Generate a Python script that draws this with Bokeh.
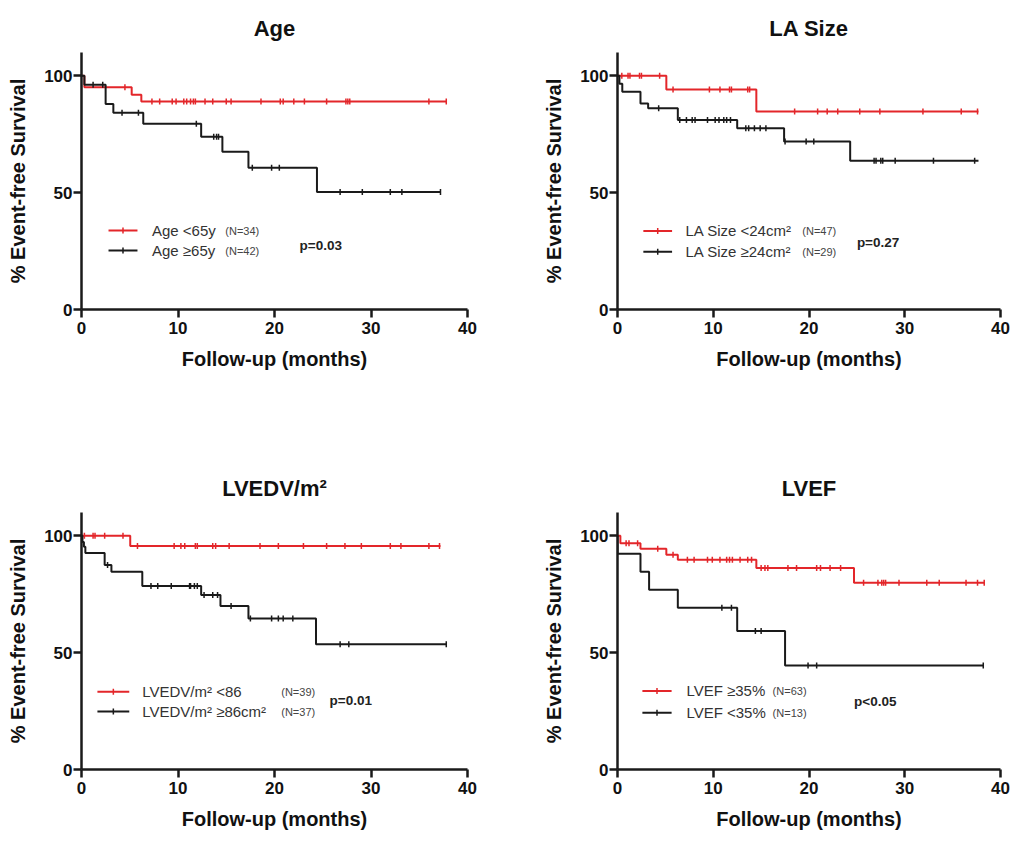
import numpy as np
from bokeh.plotting import figure
from bokeh.layouts import column, row
from bokeh.models import Label, Range1d, FixedTicker
from bokeh.embed import file_html
from bokeh.resources import INLINE

# ---------------- data ----------------
x_ticks = [0, 10, 20, 30, 40]
y_ticks = [0, 50, 100]

# Age
age_young_t = [0, 0.3, 5.2, 6.2, 37.8]
age_young_s = [100, 95.1, 91.9, 89.0, 89.0]
age_young_c = [4.5, 7.3, 8.1, 9.4, 9.8, 10.6, 10.9, 11.3, 11.6, 11.8, 12.8, 13.6, 15.0, 15.5,
               18.6, 20.6, 20.9, 22.0, 23.1, 25.4, 27.4, 27.6, 27.8, 36.0, 37.8]
age_old_t = [0, 0.3, 2.5, 3.3, 6.4, 12.4, 14.6, 17.3, 24.4, 37.2]
age_old_s = [100, 96.2, 88.0, 84.2, 79.5, 73.9, 67.5, 60.7, 50.3, 50.3]
age_old_c = [1.2, 2.2, 4.2, 5.9, 11.9, 13.7, 14.0, 14.2, 17.7, 19.7, 20.5, 26.8, 29.1, 32.0, 33.2, 37.2]

# LA size
la_small_t = [0, 5.1, 14.5, 37.7]
la_small_s = [100, 94.2, 84.7, 84.7]
la_small_c = [0.45, 1.1, 1.3, 2.3, 2.5, 4.4, 5.8, 9.6, 10.7, 11.7, 11.9, 13.6, 13.8, 18.5, 20.9,
              21.9, 23.0, 25.3, 27.4, 31.9, 35.9, 37.6]
la_large_t = [0, 0.2, 0.5, 2.4, 3.2, 6.3, 12.5, 17.4, 24.3, 37.7]
la_large_s = [100, 96.6, 93.2, 88.2, 86.1, 81.1, 77.6, 71.9, 63.7, 63.7]
la_large_c = [4.3, 6.5, 7.2, 7.8, 8.1, 9.4, 10.2, 10.6, 11.1, 11.4, 11.8, 13.4, 13.7, 14.3, 14.9,
              15.5, 17.5, 19.7, 20.5, 26.8, 27.0, 27.5, 27.7, 29.0, 33.0, 37.3]

# LVEDV/m2
lv_small_t = [0, 5.05, 37.2]
lv_small_s = [100, 95.7, 95.7]
lv_small_c = [0.3, 1.2, 1.4, 2.4, 4.3, 5.8, 9.6, 10.3, 10.7, 11.8, 12.0, 13.6, 13.9, 15.3, 18.5,
              20.4, 23.0, 25.4, 27.3, 29.0, 32.0, 33.1, 36.0, 37.1]
lv_large_t = [0, 0.1, 0.25, 0.4, 2.4, 3.1, 6.3, 12.4, 14.4, 17.3, 24.3, 37.8]
lv_large_s = [100, 97.4, 95.3, 92.7, 87.5, 84.6, 78.5, 74.7, 70.0, 64.6, 53.6, 53.6]
lv_large_c = [2.7, 7.2, 7.9, 9.3, 11.2, 11.3, 11.7, 12.0, 12.7, 13.6, 14.1, 15.5, 17.5, 19.7,
              20.4, 20.9, 21.9, 26.8, 27.7, 37.8]

# LVEF
ef_high_t = [0, 0.3, 2.4, 5.1, 6.3, 14.5, 24.7, 38.3]
ef_high_s = [100, 96.8, 94.5, 91.9, 89.8, 86.2, 79.9, 79.9]
ef_high_c = [0.9, 1.2, 2.1, 4.2, 5.8, 7.3, 8.0, 9.4, 9.9, 10.7, 11.4, 11.7, 12.0, 12.8, 13.6, 14.0,
             15.0, 15.4, 15.7, 17.8, 18.7, 20.8, 21.2, 22.2, 23.3, 25.7, 27.2, 27.6, 27.8, 28.0,
             29.4, 32.3, 33.6, 36.4, 37.6, 38.3]
ef_low_t = [0, 0, 2.4, 3.3, 6.3, 12.5, 17.5, 38.2]
ef_low_s = [100, 92.3, 84.6, 76.9, 69.2, 59.3, 44.5, 44.5]
ef_low_c = [10.9, 11.9, 14.4, 15.0, 19.9, 20.8, 38.2]

titles = ["Age", "LA Size", "LVEDV/m²", "LVEF"]
legend_red = ["Age <65y", "LA Size <24cm²", "LVEDV/m²  <86", "LVEF ≥35%"]
legend_black = ["Age ≥65y", "LA Size ≥24cm²", "LVEDV/m²  ≥86cm²", "LVEF <35%"]
n_red = ["(N=34)", "(N=47)", "(N=39)", "(N=63)"]
n_black = ["(N=42)", "(N=29)", "(N=37)", "(N=13)"]
p_values = ["p=0.03", "p=0.27", "p=0.01", "p<0.05"]

RED = "#e3262a"
BLACK = "#1a1a1a"
FONT = "Liberation Sans"


def step_value(t, s, x):
    t = np.asarray(t, float)
    s = np.asarray(s, float)
    idx = np.searchsorted(t, np.asarray(x, float), side="right") - 1
    return s[np.clip(idx, 0, len(s) - 1)]


def make_panel(title, red, black, leg, width, height, bl, br, bt, bb):
    p = figure(width=width, height=height, output_backend="svg", toolbar_location=None,
               min_border_left=bl, min_border_right=br, min_border_top=bt, min_border_bottom=bb,
               x_range=Range1d(0, 40), y_range=Range1d(0, 110))
    p.outline_line_color = None
    p.grid.visible = False
    p.background_fill_color = "white"
    p.border_fill_color = "white"

    p.title.text = title
    p.title.align = "center"
    p.title.text_font = FONT
    p.title.text_font_size = "22px"
    p.title.text_font_style = "bold"
    p.title.text_color = "#111111"
    p.title.standoff = 24

    p.xaxis.ticker = FixedTicker(ticks=x_ticks)
    p.yaxis.ticker = FixedTicker(ticks=y_ticks)
    p.xaxis.axis_label = "Follow-up (months)"
    p.yaxis.axis_label = "% Event-free Survival"
    for ax in (p.xaxis, p.yaxis):
        ax.axis_line_width = 2.5
        ax.axis_line_color = BLACK
        ax.major_tick_line_width = 2.5
        ax.major_tick_line_color = BLACK
        ax.major_tick_out = 8
        ax.major_tick_in = 0
        ax.minor_tick_line_color = None
        ax.major_label_text_font = FONT
        ax.major_label_text_font_size = "17px"
        ax.major_label_text_font_style = "bold"
        ax.major_label_text_color = "#111111"
        ax.axis_label_text_font = FONT
        ax.axis_label_text_font_style = "bold"
        ax.axis_label_text_color = "#111111"
        ax.axis_label_text_font_size = "20px"
    p.xaxis.axis_label_standoff = 11
    p.yaxis.axis_label_standoff = 12
    p.yaxis.major_label_standoff = 1
    p.xaxis.major_label_standoff = 4

    for (t, s, c), col in ((red, RED), (black, BLACK)):
        p.step(t, s, mode="after", line_color=col, line_width=2)
        p.scatter(c, step_value(t, s, c), marker="dash", angle=np.pi / 2, size=6,
                  line_color=col, line_width=1.5)

    (lx0, lx1, y_red, y_black, tx, nx, px, py, txt_r, txt_b, nr, nb, pv) = leg
    for yy, col, txt, nn in ((y_red, RED, txt_r, nr), (y_black, BLACK, txt_b, nb)):
        p.line([lx0, lx1], [yy, yy], line_color=col, line_width=2)
        p.scatter([(lx0 + lx1) / 2], [yy], marker="dash", angle=np.pi / 2, size=6,
                  line_color=col, line_width=1.5)
        p.add_layout(Label(x=tx, y=yy, text=txt, text_font=FONT, text_font_size="15px",
                           text_baseline="middle", text_color="#333333"))
        p.add_layout(Label(x=nx, y=yy, text=nn, text_font=FONT, text_font_size="11px",
                           text_baseline="middle", text_color="#444444"))
    p.add_layout(Label(x=px, y=py, text=pv, text_font=FONT, text_font_size="13.5px",
                       text_font_style="bold", text_baseline="middle", text_color="#222222"))
    return p


p1 = make_panel(titles[0], (age_young_t, age_young_s, age_young_c), (age_old_t, age_old_s, age_old_c),
                (2.8, 5.8, 33.8, 25.2, 7.3, 14.9, 22.6, 27.4,
                 legend_red[0], legend_black[0], n_red[0], n_black[0], p_values[0]),
                540, 460, 81, 73, 52, 151)
p2 = make_panel(titles[1], (la_small_t, la_small_s, la_small_c), (la_large_t, la_large_s, la_large_c),
                (2.7, 5.7, 33.6, 24.7, 7.1, 19.3, 25.0, 28.5,
                 legend_red[1], legend_black[1], n_red[1], n_black[1], p_values[1]),
                471, 460, 74, 11, 52, 151)
p3 = make_panel(titles[2], (lv_small_t, lv_small_s, lv_small_c), (lv_large_t, lv_large_s, lv_large_c),
                (1.65, 4.95, 33.3, 24.8, 6.3, 20.7, 25.7, 29.5,
                 legend_red[2], legend_black[2], n_red[2], n_black[2], p_values[2]),
                540, 374, 81, 73, 52, 65)
p4 = make_panel(titles[3], (ef_high_t, ef_high_s, ef_high_c), (ef_low_t, ef_low_s, ef_low_c),
                (2.6, 5.65, 33.6, 24.3, 7.2, 16.2, 24.7, 29.0,
                 legend_red[3], legend_black[3], n_red[3], n_black[3], p_values[3]),
                471, 374, 74, 11, 52, 65)

layout = column(row(p1, p2), row(p3, p4))
open("out.html", "w").write(file_html(layout, INLINE))
